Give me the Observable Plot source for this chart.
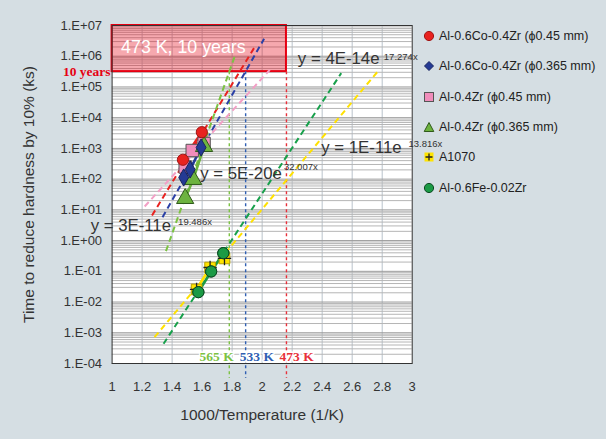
<!DOCTYPE html>
<html><head><meta charset="utf-8">
<script src="https://cdn.jsdelivr.net/npm/d3@7"></script>
<script src="https://cdn.jsdelivr.net/npm/@observablehq/plot@0.6"></script>
<style>
html,body{margin:0;padding:0;background:#d5dee3;}
#wrap{position:relative;width:606px;height:439px;overflow:hidden;}
#legend{position:absolute;left:423px;top:21px;font-family:"Liberation Sans",Arial,sans-serif;font-size:12.5px;color:#222;}
.item{display:flex;align-items:center;height:30.3px;white-space:nowrap;}
.item svg{margin-right:4px;flex:none}
</style></head><body><div id="wrap"><div id="legend"></div></div>
<script>
// ---- data ----
const legendNames = ["Al-0.6Co-0.4Zr (ϕ0.45 mm)", "Al-0.6Co-0.4Zr (ϕ0.365 mm)", "Al-0.4Zr (ϕ0.45 mm)", "Al-0.4Zr (ϕ0.365 mm)", "A1070", "Al-0.6Fe-0.02Zr"];
const coX045 = [1.472, 1.598];          const coY045 = [427, 3370];
const coX0365 = [1.477, 1.520, 1.593];  const coY0365 = [113, 206, 1070];
const zrX045 = [1.487, 1.534, 1.613];   const zrY045 = [248, 855, 1445];
const zrX0365 = [1.487, 1.540, 1.613];  const zrY0365 = [23.4, 97.5, 1150];
const a1070X = [1.563, 1.653, 1.749];   const a1070Y = [0.0257, 0.133, 0.262];
const feX = [1.575, 1.660, 1.741];      const feY = [0.021, 0.099, 0.39];

// trendline end points (x1, x2, y1, y2) per series
const fitX1 = [1.266, 1.336, 1.217, 1.359, 1.283, 1.343];
const fitX2 = [1.947, 2.013, 2.051, 1.819, 2.776, 2.527];
const fitY1 = [6.56, 5.78, 12.9, 0.452, 7.19e-4, 4.39e-4];
const fitY2 = [1.88e6, 3.69e6, 3.61e5, 1.06e6, 3.44e5, 2.81e5];

const eqMain = ["y = 4E-14e", "y = 1E-11e", "y = 5E-20e", "y = 3E-11e"];
const eqExp = ["17.274x", "13.816x", "32.007x", "19.486x"];
const eqX = [2.238, 2.394, 1.587, 0.857];
const eqY = [8.4e5, 1100, 156, 3.1];
const expX = [2.811, 2.975, 2.145, 1.44];
const expY = [9.6e5, 1400, 250, 4.1];

const tempLabels = ["565 K", "533 K", "473 K"];
const tempX = [1.781, 1.890, 2.162];
const tempLabelX = [1.697, 1.965, 2.230];
const tempLabelY = 1.62e-4;
const tenYears = 315360; // ks
const boxX = [1, 2.162];
const boxTop = 1e7;
const boxText = "473 K, 10 years";

const xTicks = [1, 1.2, 1.4, 1.6, 1.8, 2, 2.2, 2.4, 2.6, 2.8, 3];
const yExps = [-4, -3, -2, -1, 0, 1, 2, 3, 4, 5, 6, 7];

// ---- styles ----
const colors = ["#e8221f", "#243a94", "#f08dbb", "#6db33f", "#ffe400", "#1b9a45"];
const edge = ["#a01515", "#18245e", "#555555", "#2f5a1a", "#b8a000", "#0c4a22"];
const fitColors = ["#e8221f", "#2b40a6", "#f2a0c6", "#7cc243", "#ffe100", "#17a04b"];
const symbols = ["circle", "diamond", "square", "triangle", "square", "circle"];
const radii = [5.6, 5.2, 7, 6.4, 6, 5.6];

const xs = [coX045, coX0365, zrX045, zrX0365, a1070X, feX];
const ys = [coY045, coY0365, zrY045, zrY0365, a1070Y, feY];
const rows = xs.flatMap((xa, i) => xa.map((x, j) => ({s: i, x, y: ys[i][j]})));
const fits = fitX1.map((x1, i) => ({s: i, x1, x2: fitX2[i], y1: fitY1[i], y2: fitY2[i]}));
const temps = tempLabels.map((t, i) => ({t, x: tempX[i], lx: tempLabelX[i], c: ["#7cc243", "#2f5fb3", "#e8303a"][i]}));
const yTicks = yExps.map(e => Math.pow(10, e));
const minor = yExps.slice(0, -1).flatMap(e => d3.range(2, 10).map(k => k * Math.pow(10, e)));
const fmtY = v => { const e = Math.round(Math.log10(v)); return "1.E" + (e < 0 ? "-" : "+") + String(Math.abs(e)).padStart(2, "0"); };

const chart = Plot.plot({
  width: 606, height: 439,
  marginLeft: 111.6, marginRight: 194.3, marginTop: 25, marginBottom: 76,
  style: {background: "transparent", fontFamily: "'Liberation Sans', Arial, sans-serif", color: "#333", overflow: "visible"},
  x: {domain: [1, 3]},
  y: {type: "log", domain: [1e-4, 1e7]},
  r: {type: "identity"},
  marks: [
    Plot.frame({fill: "white"}),
    Plot.ruleX(xTicks.slice(1, -1), {stroke: "#b9c3cb", strokeWidth: 1}),
    Plot.ruleY(minor, {stroke: "#b5b5b5", strokeWidth: 1}),
    Plot.ruleY(yTicks, {stroke: "#9b9b9b", strokeWidth: 1}),
    Plot.rect([0], {x1: () => boxX[0], x2: () => boxX[1], y1: () => tenYears, y2: () => boxTop, fill: "#e60012", fillOpacity: 0.34, stroke: "#e60012", strokeWidth: 2}),
    Plot.ruleX(temps, {x: "x", y1: tenYears, y2: Math.pow(10, -4.49), stroke: "c", strokeWidth: 1.4, strokeDasharray: "3,3"}),
    Plot.link(fits, {x1: "x1", x2: "x2", y1: "y1", y2: "y2", stroke: d => fitColors[d.s], strokeWidth: 2, strokeDasharray: "6,4"}),
    Plot.line(rows, {x: "x", y: "y", z: "s", stroke: d => colors[d.s], strokeWidth: 2.6}),
    Plot.dot(rows, {x: "x", y: "y", symbol: d => symbols[d.s], r: d => radii[d.s], fill: d => colors[d.s], stroke: d => edge[d.s], strokeWidth: 1}),
    Plot.dot(rows.filter(d => d.s === 4), {x: "x", y: "y", symbol: "plus", r: 4.4, stroke: "#222", strokeWidth: 1.3}),
    Plot.dot(rows.filter(d => d.s === 5), {x: "x", y: "y", symbol: "circle", r: radii[5], fill: colors[5], stroke: edge[5], strokeWidth: 1}),
    Plot.frame({stroke: "#333", strokeWidth: 1}),
    Plot.text([boxText], {x: 1.06, y: 1.97e6, text: d => d, textAnchor: "start", fill: "white", fontSize: 17.8}),
    Plot.text(["10 years"], {x: 0.99, y: tenYears, text: d => d, textAnchor: "end", fill: "#e60012", fontSize: 13.5, fontWeight: "bold", fontFamily: "'Liberation Serif', 'DejaVu Serif', serif"}),
    Plot.text(temps, {x: "lx", y: tempLabelY, text: "t", fill: "c", fontSize: 13.5, fontWeight: "bold", fontFamily: "'Liberation Serif', 'DejaVu Serif', serif", stroke: "white", strokeWidth: 3}),
    Plot.text(eqMain, {x: (d, i) => eqX[i], y: (d, i) => eqY[i], text: d => d, textAnchor: "start", fontSize: 16.8, fill: "#333"}),
    Plot.text(eqExp, {x: (d, i) => expX[i], y: (d, i) => expY[i], text: d => d, textAnchor: "start", fontSize: 9.5, fill: "#333"}),
    Plot.axisY({ticks: yTicks, tickFormat: fmtY, tickSize: 0, tickPadding: 10, fontSize: 13, label: "Time to reduce hardness by 10% (ks)", labelAnchor: "center", labelArrow: "none", labelOffset: 89}),
    Plot.axisX({ticks: xTicks, tickFormat: d => String(d), tickSize: 0, tickPadding: 18, fontSize: 13, label: "1000/Temperature (1/K)", labelAnchor: "center", labelArrow: "none", labelOffset: 56})
  ]
});
chart.querySelectorAll("[aria-label='y-axis label'], [aria-label='x-axis label']").forEach(n => n.setAttribute("font-size", "15.5"));
document.getElementById("wrap").prepend(chart);

// legend (HTML)
function icon(i) {
  const c = colors[i], e = edge[i];
  let s = "";
  if (i === 0 || i === 5) s = `<circle cx="6" cy="6" r="4.6" fill="${c}" stroke="${e}"/>`;
  else if (i === 1) s = `<path d="M6 1.5 L10.5 6 L6 10.5 L1.5 6 Z" fill="${c}" stroke="${e}"/>`;
  else if (i === 2) s = `<rect x="1.5" y="1.5" width="9" height="9" fill="${c}" stroke="${e}"/>`;
  else if (i === 3) s = `<path d="M6 1.5 L10.8 10.5 L1.2 10.5 Z" fill="${c}" stroke="${e}"/>`;
  else s = `<rect x="1.5" y="1.5" width="9" height="9" fill="${c}"/><path d="M6 2.5 V9.5 M2.5 6 H9.5" stroke="#222" stroke-width="1.3"/>`;
  return `<svg width="12" height="12">${s}</svg>`;
}
document.getElementById("legend").innerHTML = legendNames.map((n, i) => `<div class="item">${icon(i)}<span>${n}</span></div>`).join("");
</script></body></html>
